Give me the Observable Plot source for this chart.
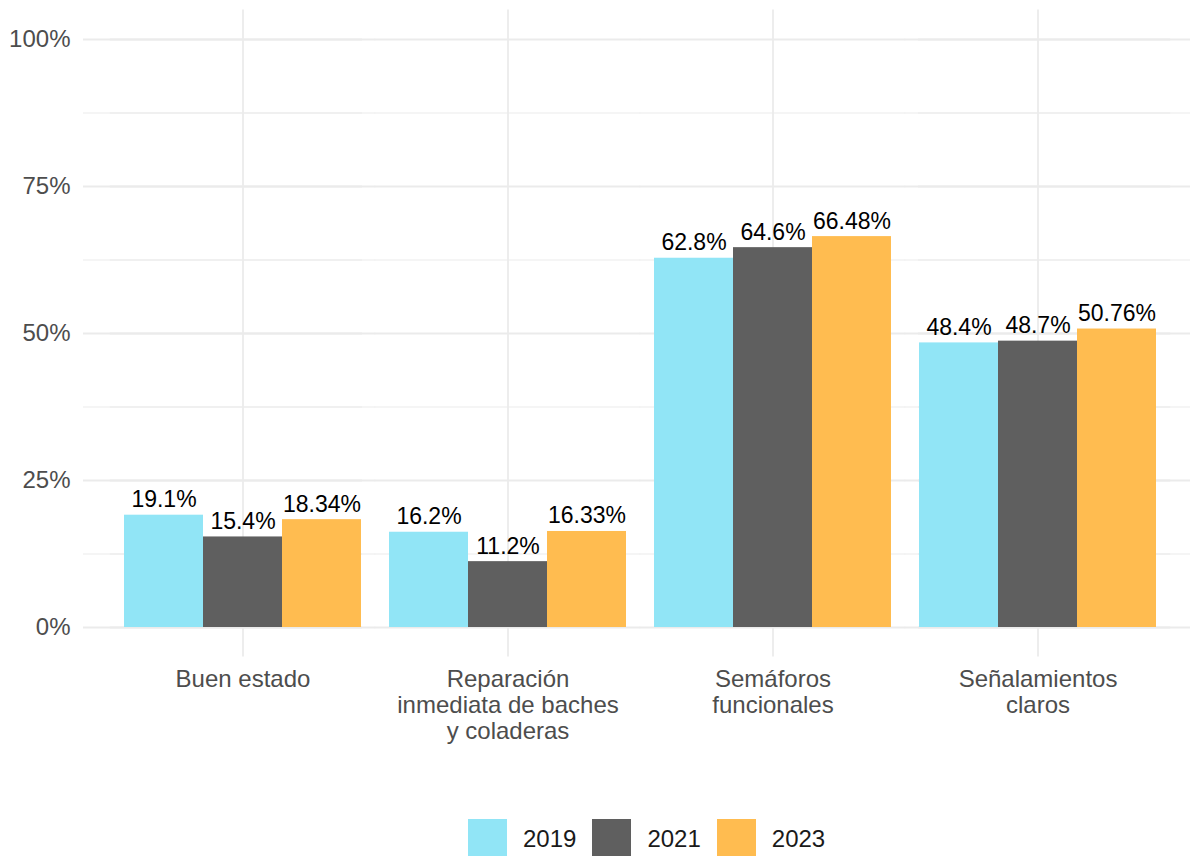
<!DOCTYPE html>
<html><head><meta charset="utf-8">
<script src="https://cdn.jsdelivr.net/npm/d3@7"></script>
<script src="https://cdn.jsdelivr.net/npm/@observablehq/plot@0.6"></script>
<style>
body{margin:0;background:#fff;font-family:"Liberation Sans",Arial,sans-serif;}
#legend{display:flex;position:relative;left:468px;margin-top:7px;align-items:center;height:39px}
.sw{width:39px;height:39px;box-sizing:border-box}
.lb{font-size:24px;color:#1a1a1a;margin:0 16px 0 16px;line-height:39px}
</style></head><body><div id="chart"></div><div id="legend"></div>
<script>
const categories = ["Buen estado","Reparación inmediata de baches y coladeras","Semáforos funcionales","Señalamientos claros"];
const categoryLabels = ["Buen estado","Reparación\ninmediata de baches\ny coladeras","Semáforos\nfuncionales","Señalamientos\nclaros"];
const years = ["2019","2021","2023"];
const values2019 = [19.1,16.2,62.8,48.4];
const values2021 = [15.4,11.2,64.6,48.7];
const values2023 = [18.34,16.33,66.48,50.76];
const colors = ["#91E5F6","#5F5F5F","#FFBC50"];
const yTicks = [0,25,50,75,100];
const yMinor = [12.5,37.5,62.5,87.5];

const series = [values2019, values2021, values2023];
const data = categories.flatMap((c,i) => years.map((y,j) => ({cat:c, year:y, value:series[j][i]})));

function gridMarks(vals, sw){
  const all = categories.flatMap(c => vals.map(v => ({c, v})));
  const first = vals.map(v => ({c:categories[0], v}));
  const last = vals.map(v => ({c:categories[categories.length-1], v}));
  const o = {fx:"c", y:"v", stroke:"#EBEBEB", strokeWidth:sw};
  return [
    Plot.ruleY(all, {...o, insetLeft:-13.3, insetRight:-13.3}),
    Plot.ruleY(first, {...o, insetLeft:-40}),
    Plot.ruleY(last, {...o, insetRight:-33})
  ];
}

const plot = Plot.plot({
  width:1196, height:812,
  marginLeft:123, marginRight:39, marginTop:9.6, marginBottom:155.6,
  fx:{domain:categories, paddingInner:0.1, paddingOuter:0, label:null},
  x:{domain:years, padding:0, axis:null},
  y:{domain:[-5,105], axis:null},
  color:{domain:years, range:colors},
  style:{fontFamily:"Liberation Sans, Arial, sans-serif", background:"#fff", overflow:"visible"},
  marks:[
    ...gridMarks(yMinor, 1.1),
    ...gridMarks(yTicks, 1.8),
    Plot.ruleX(["2021"], {x:d=>d, stroke:"#EBEBEB", strokeWidth:1.8}),
    Plot.barY(data, {fx:"cat", x:"year", y:"value", fill:"year"}),
    Plot.text(data, {fx:"cat", x:"year", y:"value", text:d=>d.value+"%", lineAnchor:"bottom", dy:-8, fontSize:23, fill:"black"}),
    Plot.axisY(yTicks, {tickSize:0, tickPadding:13, dx:-40, fontSize:24, color:"#4D4D4D", tickFormat:d=>d+"%", label:null}),
    Plot.axisFx({anchor:"bottom", tickSize:0, tickPadding:11, fontSize:24, color:"#4D4D4D", lineHeight:1.1, tickFormat:d=>categoryLabels[categories.indexOf(d)], label:null})
  ]
});
document.getElementById("chart").appendChild(plot);

const legend = document.getElementById("legend");
years.forEach((y,j) => {
  const s = document.createElement("div"); s.className="sw"; s.style.background=colors[j];
  const t = document.createElement("div"); t.className="lb"; t.textContent=y;
  legend.appendChild(s); legend.appendChild(t);
});
</script></body></html>
